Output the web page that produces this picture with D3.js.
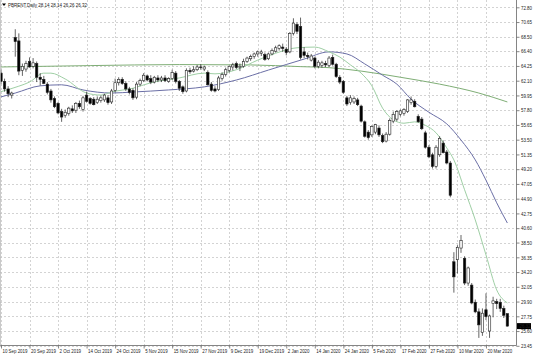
<!DOCTYPE html>
<html>
<head>
<meta charset="utf-8">
<title>PBRENT Daily</title>
<script src="https://d3js.org/d3.v7.min.js"></script>
<style>
  body, html { margin: 0; padding: 0; background: #fff; }
  svg { display: block; }
  text { font-family: "Liberation Sans", Arial, sans-serif; font-size: 5.5px; fill: #222; }
</style>
</head>
<body>
<svg width="536" height="357"></svg>
<script>
// symbol + period shown in the top-left header
const symbol = "PBRENT,Daily";

// bottom labels, one every 8 bars
const dateLabels = ["10 Sep 2019", "20 Sep 2019", "2 Oct 2019", "14 Oct 2019", "24 Oct 2019",
  "5 Nov 2019", "15 Nov 2019", "27 Nov 2019", "9 Dec 2019", "19 Dec 2019", "2 Jan 2020",
  "14 Jan 2020", "24 Jan 2020", "5 Feb 2020", "17 Feb 2020", "27 Feb 2020", "10 Mar 2020", "20 Mar 2020"];

// right scale labels
const priceTicks = [72.80, 70.65, 68.50, 66.40, 64.25, 62.10, 59.95, 57.80, 55.65, 53.50, 51.35, 49.20,
  47.05, 44.90, 42.75, 40.60, 38.50, 36.35, 34.20, 32.05, 29.90, 27.75, 25.60, 23.45];

// daily candles
const open = [63.2,62.0,60.9,60.0,68.4,67.9,63.6,63.8,64.9,64.2,64.6,62.6,62.3,61.6,60.6,59.5,58.8,57.6,57.0,57.3,
  58.0,57.8,58.8,57.9,60.0,59.5,59.4,58.9,59.2,59.3,59.6,59.0,60.7,61.8,62.3,61.7,60.9,60.7,59.7,61.6,
  62.1,62.8,62.4,61.9,62.5,62.2,62.5,62.0,62.4,63.2,62.0,61.2,60.6,63.6,63.5,63.7,64.1,63.8,63.3,61.6,
  60.9,60.8,62.4,63.0,63.6,64.1,64.6,64.0,64.2,64.9,65.3,65.6,66.0,66.1,65.9,65.3,66.0,66.4,66.8,67.0,
  66.7,66.3,69.0,70.3,70.0,66.3,65.8,65.1,65.4,64.2,64.3,64.6,64.3,65.5,64.5,62.6,62.0,59.6,58.9,59.0,
  59.3,58.4,56.1,54.6,54.2,54.6,55.2,54.1,53.3,54.3,56.2,56.5,57.2,57.3,57.6,58.9,59.1,56.9,56.5,54.5,
  52.4,51.3,49.6,51.3,53.0,51.7,50.1,35.7,36.0,37.7,36.2,32.6,32.3,29.8,28.4,25.4,28.7,25.6,29.6,29.9,
  29.8,28.9,28.14];
const high = [63.7,62.4,61.3,60.5,69.6,69.0,64.6,65.0,65.5,65.4,64.9,63.2,62.8,61.9,60.9,59.8,59.0,58.0,57.9,58.3,
  58.5,59.0,59.2,59.9,60.5,59.7,59.7,59.8,59.9,60.2,60.0,60.9,62.4,62.6,62.6,62.0,61.2,61.0,61.9,62.4,
  63.2,63.0,62.9,62.8,62.9,62.8,62.9,62.6,63.7,63.5,62.2,61.4,63.9,64.0,64.2,64.4,64.5,64.3,63.6,61.9,
  61.3,62.8,63.3,64.0,64.3,64.7,64.9,64.6,65.3,65.6,65.9,66.2,66.5,66.6,66.2,66.2,66.8,67.2,67.4,67.5,
  67.0,69.2,71.2,70.6,71.3,67.0,66.2,66.0,65.6,65.1,65.0,65.0,65.7,65.9,64.7,62.9,62.2,59.9,60.0,59.8,
  59.6,58.6,56.3,54.9,55.6,55.8,55.6,54.4,54.6,56.6,57.6,57.8,57.9,58.1,59.4,59.8,59.4,57.2,56.8,54.8,
  52.7,51.6,52.7,54.0,53.4,52.0,50.4,37.1,38.1,39.6,36.5,35.0,32.6,30.2,28.9,28.9,31.1,28.0,30.6,30.3,
  30.3,29.3,28.14];
const low = [61.6,60.5,59.7,59.5,65.6,62.9,62.8,63.4,64.0,63.9,61.9,61.4,61.6,60.1,58.9,58.1,57.2,56.1,56.7,57.0,
  57.4,57.4,58.0,57.6,58.9,58.6,58.5,58.7,58.9,59.0,58.6,58.7,60.4,61.4,61.5,60.6,60.1,59.3,59.4,61.3,
  61.9,62.0,61.6,61.7,61.9,61.9,61.9,61.8,62.2,61.7,60.6,60.2,60.4,63.1,63.3,63.5,63.7,63.5,61.4,60.5,
  60.4,60.6,62.1,62.7,63.3,63.6,63.8,63.5,64.0,64.7,65.0,65.3,65.6,65.7,65.0,65.1,65.8,66.2,66.5,66.3,
  65.8,66.1,68.7,68.9,65.2,65.4,65.2,64.9,63.9,63.9,64.0,64.1,64.1,64.3,62.5,61.6,60.2,58.4,58.6,58.7,
  58.4,56.0,53.8,53.5,53.9,54.3,53.9,53.0,53.1,54.1,55.9,56.2,56.9,57.0,57.4,58.6,58.2,56.0,54.9,52.2,
  50.8,49.3,49.3,51.0,51.5,49.9,45.1,31.2,34.0,37.0,32.3,32.2,29.5,28.2,24.6,24.9,27.2,24.6,27.6,28.8,
  28.4,27.5,26.26];
const close = [62.0,60.9,60.2,60.3,67.8,63.5,64.2,64.6,64.1,64.7,62.6,62.3,61.7,60.4,59.3,58.3,57.4,56.8,57.5,58.1,
  57.7,58.8,58.3,59.6,59.1,58.8,58.6,59.4,59.6,60.0,58.9,60.6,61.8,62.3,61.7,60.9,60.4,59.6,61.6,62.1,
  62.9,62.2,61.9,62.6,62.2,62.5,62.1,62.4,63.3,62.0,61.0,60.5,63.6,63.4,63.7,64.1,64.0,64.1,61.5,60.7,
  60.6,62.5,63.0,63.7,64.2,64.4,64.0,64.2,64.9,65.4,65.6,66.0,66.3,66.3,65.2,66.0,66.5,66.9,67.2,66.8,
  66.2,69.0,70.5,69.3,65.5,65.8,65.6,65.7,64.2,64.8,64.7,64.4,65.4,64.5,62.7,61.9,60.4,58.7,59.6,59.5,
  58.6,56.2,54.0,53.8,55.4,55.7,54.2,53.2,54.3,56.3,57.2,57.6,57.7,57.9,59.3,59.3,58.3,56.1,55.1,52.4,
  51.0,49.6,52.4,53.7,51.6,50.1,45.4,33.5,37.8,38.8,32.6,34.8,29.7,28.4,26.5,28.2,27.7,27.8,30.0,29.6,
  28.9,27.9,26.32];

// moving averages: bar index + value
const fastBars = [0,5,8,12,14,18,24,28,31,37,42,50,57,60,66,72,77,83,88,92,95,98,101,104,107,110,113,116,119,122,125,127,130,133,136,139,142];
const fastVals = [60.5,61.3,61.9,63.2,63.2,62.35,60.3,60.0,60.45,61.0,61.8,62.5,63.2,63.1,63.7,65.1,66.1,66.9,67.0,66.3,65.55,64.4,63.2,61.35,58.1,56.4,55.9,56.1,55.6,54.5,52.3,50.55,46.2,41.8,36.7,31.6,29.7];
const midBars = [0,4,11,17,23,31,37,47,57,66,75,85,92,97,102,107,111,115,120,125,129,133,136,139,142];
const midVals = [59.74,60.3,61.35,61.5,60.75,60.3,60.45,60.75,61.2,62.2,63.65,65.25,66.3,66.0,64.55,62.9,61.6,59.4,57.5,55.8,53.45,50.55,47.6,44.3,41.35];
const slowBars = [0,25,50,70,84,92,101,112,123,134,142];
const slowVals = [64.10,64.30,64.45,64.40,64.15,64.00,63.50,62.60,61.60,60.30,59.00];

const svg = d3.select("svg");
const plotRight = 516.5, plotBottom = 345.5;
const n = close.length;
const squeeze = 0.8; // labels are drawn narrow, like the terminal font

const x = d3.scaleLinear().domain([0, 142]).range([1, 1 + 142 * 3.566]);
const y = d3.scaleLinear().domain([23.45, 72.80]).range([345.8, 7.3]);

// grid (dotted)
const grid = svg.append("g").attr("stroke", "#c8c8c8").attr("stroke-width", 0.8).attr("stroke-dasharray", "2,2");
grid.selectAll("line.h").data(priceTicks).join("line")
    .attr("x1", 0).attr("x2", plotRight)
    .attr("y1", d => Math.round(y(d)) + 0.5).attr("y2", d => Math.round(y(d)) + 0.5);
grid.selectAll("line.v").data(dateLabels).join("line")
    .attr("y1", 0).attr("y2", plotBottom)
    .attr("x1", (d, k) => Math.round(x(k * 8)) + 0.5).attr("x2", (d, k) => Math.round(x(k * 8)) + 0.5);

// moving averages
function drawMA(bars, vals, color) {
    const line = d3.line().x(d => x(d[0])).y(d => y(d[1])).curve(d3.curveMonotoneX);
    svg.append("path")
        .datum(bars.map((b, k) => [b, vals[k]]))
        .attr("fill", "none").attr("stroke", color).attr("stroke-width", 1)
        .attr("d", line);
}
drawMA(slowBars, slowVals, "#7fae76");
drawMA(midBars, midVals, "#6b6fa6");
drawMA(fastBars, fastVals, "#9fcfa5");

// candles
const candles = svg.append("g");
const idx = d3.range(n);
candles.selectAll("line").data(idx).join("line")
    .attr("x1", i => x(i)).attr("x2", i => x(i))
    .attr("y1", i => y(high[i])).attr("y2", i => y(low[i]))
    .attr("stroke", "#222").attr("stroke-width", 0.7);
candles.selectAll("rect").data(idx).join("rect")
    .attr("x", i => x(i) - 1.2).attr("width", 2.4)
    .attr("y", i => y(Math.max(open[i], close[i])))
    .attr("height", i => Math.max(0.6, Math.abs(y(open[i]) - y(close[i]))))
    .attr("fill", i => close[i] >= open[i] ? "#fff" : "#000")
    .attr("stroke", "#222").attr("stroke-width", 0.6);

// right price axis
const yAxis = d3.axisRight(y).tickValues(priceTicks).tickSize(3).tickPadding(0)
    .tickFormat(d3.format(".2f"));
const gy = svg.append("g").attr("transform", `translate(${plotRight},0)`).call(yAxis);
gy.select(".domain").remove();
gy.selectAll(".tick line").attr("stroke", "#555").attr("stroke-width", 0.7);
gy.selectAll(".tick text").attr("font-size", 5.5).attr("fill", "#333")
    .attr("x", 4.5 / squeeze).attr("transform", `scale(${squeeze},1)`);

// bottom date axis
const xAxis = d3.axisBottom(x).tickValues(dateLabels.map((d, k) => k * 8)).tickSize(3)
    .tickFormat(i => dateLabels[i / 8]);
const gx = svg.append("g").attr("transform", `translate(0,${plotBottom})`).call(xAxis);
gx.select(".domain").remove();
gx.selectAll(".tick line").attr("stroke", "#555").attr("stroke-width", 0.7);
gx.selectAll(".tick text").attr("font-size", 5.5).attr("fill", "#333")
    .attr("text-anchor", "start").attr("x", 1 / squeeze).attr("y", 3.5).attr("dy", "0.71em")
    .attr("transform", `scale(${squeeze},1)`);

// frame
svg.append("line").attr("x1", plotRight).attr("x2", plotRight).attr("y1", 0).attr("y2", plotBottom)
    .attr("stroke", "#666").attr("stroke-width", 0.8);
svg.append("line").attr("x1", 0).attr("x2", plotRight).attr("y1", plotBottom).attr("y2", plotBottom)
    .attr("stroke", "#666").attr("stroke-width", 0.8);
svg.append("line").attr("x1", 0.5).attr("x2", 0.5).attr("y1", 0).attr("y2", plotBottom)
    .attr("stroke", "#bbb").attr("stroke-width", 0.8);

// last price marker
const last = close[n - 1];
svg.append("rect").attr("x", plotRight + 0.5).attr("y", y(last) - 3).attr("width", 14).attr("height", 6)
    .attr("fill", "#000");
svg.append("text").attr("x", (plotRight + 3) / squeeze).attr("y", y(last)).attr("dy", "0.35em")
    .attr("fill", "#fff").attr("font-size", 4.8)
    .attr("transform", `scale(${squeeze},1)`)
    .text(last.toFixed(2));

// header
svg.append("path").attr("d", "M2,3.5 L6,3.5 L4,6 Z").attr("fill", "#000");
const header = symbol + "  " + [open[n - 1], high[n - 1], low[n - 1], close[n - 1]].map(v => v.toFixed(2)).join(" ");
svg.append("text").attr("x", 8 / 0.82).attr("y", 5).attr("dy", "0.35em").attr("font-size", 5.8).attr("fill", "#222")
    .attr("transform", "scale(0.82,1)")
    .text(header);
</script>
</body>
</html>
